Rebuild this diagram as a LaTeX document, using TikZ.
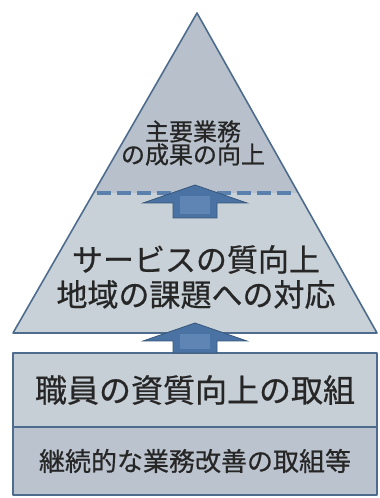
\documentclass[tikz,border=0pt]{standalone}
\usepackage{fontspec}
\newfontfamily\jp[FakeBold=0.6]{Noto Sans CJK JP}
\usetikzlibrary{calc}
\definecolor{edgeblue}{HTML}{4E6C8E}
\definecolor{topfill}{HTML}{B8C1CB}
\definecolor{midfill}{HTML}{C8D1D7}
\definecolor{staffill}{HTML}{C7CFD6}
\definecolor{basefill}{HTML}{BBC3CE}
\definecolor{arrblue}{HTML}{4A73A3}
\definecolor{arrlight}{HTML}{5F85B4}
\definecolor{dashblue}{HTML}{5A80AE}
\tikzset{
	layer/.style={draw=edgeblue,line width=1.6pt,line join=round},
	lbl/.style={text=black!85,align=center,inner sep=0pt},
	stage/.style={layer,minimum width=364pt,inner sep=0pt,text=black!85},
	pics/uparrow/.style={code={
		\fill[arrblue,draw=arrblue!75!black,line width=0.8pt] (0,0)--(52,-18)--(22,-18)--(22,-#1)--(-22,-#1)--(-22,-18)--(-52,-18)--cycle;
		\fill[arrlight] (-15,-#1+4) rectangle (15,-11);
	}}
}
\begin{document}
\begin{tikzpicture}[x=1pt,y=1pt,font=\jp]
	\useasboundingbox (0,0) rectangle (380,498);
	\coordinate (apex) at (197,485);
	\coordinate (bl) at (13,165);
	\coordinate (br) at (377,165);
	\coordinate (dl) at ($(apex)!0.5625!(bl)$);
	\coordinate (dr) at ($(apex)!0.5625!(br)$);
	\fill[midfill] (bl)--(br)--(dr)--(dl)--cycle;
	\fill[topfill] (apex)--(dr)--(dl)--cycle;
	\draw[layer] (apex)--(br)--(bl)--cycle;
	\draw[dashblue,line width=4.5pt,dash pattern=on 14pt off 6pt] ($(dl)+(3,0)$)--($(dr)+(-3,0)$);
	\pic at (195,313) {uparrow=33};
	\node[lbl,font=\jp\fontsize{24}{23}\selectfont] (goal) at (193,355) {主要業務\\の成果の向上};
	\node[lbl,font=\jp\fontsize{31}{35}\selectfont] (service) at (196,221) {サービスの質向上\\地域の課題への対応};
	\node[stage,fill=staffill,minimum height=74pt,font=\jp\fontsize{32}{32}\selectfont] (staff) at (195,108) {職員の資質向上の取組};
	\node[stage,fill=basefill,minimum height=68pt,font=\jp\fontsize{26}{26}\selectfont] (kaizen) at (195,37) {継続的な業務改善の取組等};
	\pic at (195,175) {uparrow=30};
\end{tikzpicture}
\end{document}
